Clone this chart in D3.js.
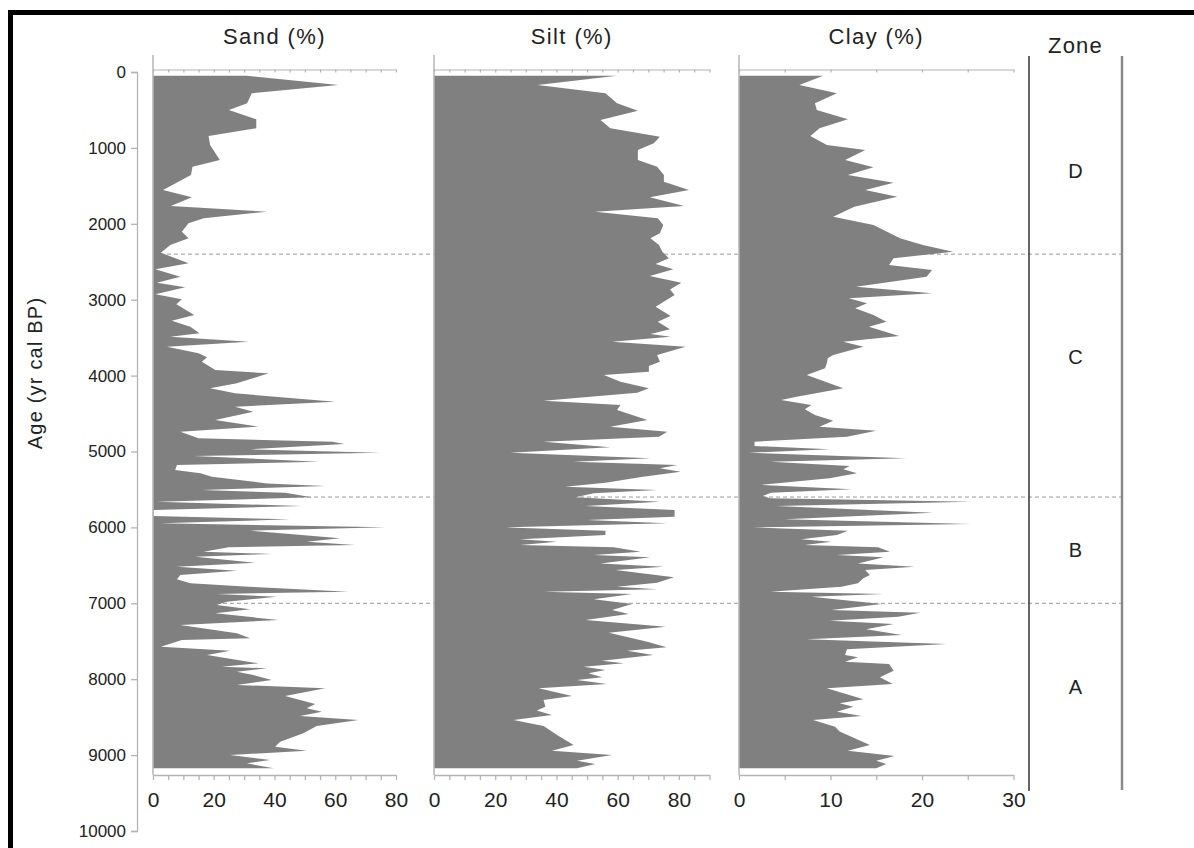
<!DOCTYPE html>
<html><head><meta charset="utf-8">
<script src="https://cdn.jsdelivr.net/npm/d3@7/dist/d3.min.js"></script>
<style>
body{margin:0;background:#fff}
svg{display:block}
text{font-family:"Liberation Sans",Arial,Helvetica,sans-serif}
</style>
</head><body>
<svg id="chart" width="1194" height="848"></svg>
<script>
// ---- data: [age (yr cal BP), percent] ----
const sandData = [[50,31],[171,61],[281,32.5],[413,31],[501,25],[624,34],[742,34],[843,18.3],[962,18.8],[1159,22],[1247,13],[1357,12.5],[1555,3.3],[1651,12.8],[1765,5.9],[1840,37.5],[1928,16.7],[1994,11.7],[2104,9.5],[2191,11.7],[2279,5.7],[2381,2.6],[2521,11.7],[2600,0.8],[2697,9],[2776,1.3],[2837,10.6],[2929,0.8],[2995,9.5],[3061,7.7],[3202,13.6],[3277,6.2],[3356,12.3],[3443,15.3],[3487,5.7],[3553,31.5],[3619,4.6],[3707,15],[3759,17.8],[3817,16.1],[3926,20.5],[3970,38],[4102,27.6],[4168,18.8],[4233,27],[4344,60],[4410,27],[4476,33],[4585,20.5],[4673,34.7],[4739,9],[4826,15],[4871,59],[4900,63],[4971,32],[5016,74.7],[5059,13.4],[5135,54.5],[5178,7.9],[5244,7.3],[5288,15.6],[5332,19.4],[5420,37.5],[5455,56.7],[5507,16],[5543,43.5],[5604,52.3],[5661,1.3],[5718,49],[5771,0.2],[5850,0.2],[5894,45],[5946,2.4],[5999,76.7],[6043,32],[6144,61.6],[6188,50.6],[6232,66.5],[6262,24.9],[6320,16.7],[6350,39.1],[6386,13.9],[6465,33.6],[6517,7.9],[6570,27.6],[6627,9],[6684,7.9],[6737,12.3],[6781,31.5],[6847,64.3],[6877,21],[6913,40.8],[6979,24.3],[7022,21],[7079,32],[7132,20.5],[7220,41.3],[7286,9],[7396,27.6],[7462,32],[7484,9.5],[7572,2.6],[7625,25.4],[7681,17.8],[7791,34.7],[7835,22.7],[7857,37.5],[7901,27.6],[7945,33],[8011,39.1],[8076,27.6],[8120,56.7],[8221,43.5],[8327,53.4],[8384,50.6],[8428,55.6],[8485,48.4],[8538,67.6],[8617,53.9],[8713,49.5],[8824,41.9],[8890,40.2],[8942,50.6],[8999,25.4],[9065,38.6],[9108,30.9],[9174,39.7]];

const siltData = [[50,59.8],[171,33.8],[281,56],[413,59.8],[510,66.6],[632,54.4],[742,57.6],[852,73.8],[940,71.8],[1028,66.6],[1159,66.6],[1247,72.9],[1357,75.1],[1445,75.1],[1555,83.3],[1651,70.5],[1765,81.7],[1840,52.7],[1928,73.1],[2016,74.9],[2125,73.8],[2191,70.7],[2279,73.5],[2367,74.6],[2455,76.7],[2530,72.4],[2600,78.2],[2688,70.5],[2776,80.8],[2864,77.1],[2938,78.6],[3092,72.4],[3215,77.3],[3290,73.1],[3390,77.1],[3452,70.7],[3487,77.3],[3553,58.2],[3619,82.2],[3729,72.9],[3817,73.8],[3874,70.2],[3948,70.2],[3992,55.5],[4080,60.9],[4168,70.2],[4226,66.4],[4330,35.8],[4387,60.9],[4453,59.8],[4585,69.7],[4673,57.6],[4739,76.2],[4805,73.5],[4871,35.8],[4945,57.6],[5016,24.9],[5090,70.7],[5135,45.6],[5178,79.5],[5222,73.8],[5266,80.6],[5332,68.3],[5411,56],[5464,42.9],[5507,72.9],[5551,52.2],[5604,46.2],[5661,73.8],[5718,49.5],[5771,78.6],[5859,78.6],[5903,50],[5946,76.2],[5999,23.6],[6043,56],[6100,56],[6157,28.2],[6188,40.2],[6232,28.2],[6262,58.7],[6320,67.5],[6364,52.2],[6394,70.7],[6474,54.4],[6517,75.1],[6561,59.3],[6658,78.4],[6728,72.9],[6781,59.8],[6816,72.9],[6847,35.8],[6877,64.7],[6947,52.2],[7009,64.7],[7088,58.2],[7141,63.6],[7220,49.5],[7308,75.7],[7387,57.1],[7506,69.7],[7580,76],[7625,63.1],[7681,71.6],[7756,54.9],[7791,62],[7835,48.9],[7879,56],[7923,50.5],[7975,54.9],[8011,46.7],[8063,56.5],[8120,34.2],[8221,45.1],[8274,35.8],[8362,36.4],[8414,33.6],[8471,38.5],[8538,26],[8617,35.8],[8735,40.2],[8867,45.6],[8942,38.5],[8999,58.2],[9074,46.7],[9117,52.7],[9174,46.7]];

const clayData = [[50,9.2],[171,6.6],[281,10.7],[413,8.3],[501,8.5],[624,11.9],[742,8.8],[843,7.8],[962,9.6],[1028,13.8],[1159,11.6],[1256,14.7],[1357,11.9],[1458,16.9],[1555,13.8],[1643,17.3],[1774,12.6],[1906,10.3],[2016,14.7],[2191,17.6],[2279,20.1],[2367,23.4],[2455,16.9],[2543,16.4],[2609,21.1],[2697,20.5],[2829,12.8],[2916,21.1],[2982,12],[3048,14],[3114,12.7],[3202,14.7],[3290,16.1],[3356,14.2],[3478,17.5],[3553,11.4],[3619,13.6],[3729,10.3],[3772,9.7],[3838,9.6],[3904,9.4],[3992,7.4],[4168,11.4],[4278,6.3],[4322,4.6],[4387,7.9],[4444,7.2],[4519,8.3],[4594,10.3],[4673,8.8],[4725,15],[4805,11.8],[4871,1.7],[4928,1.7],[4971,9.9],[5016,1.1],[5090,18.3],[5135,3.4],[5191,12.1],[5235,11.4],[5288,12.9],[5354,9.9],[5441,2.4],[5498,12.3],[5543,3.5],[5586,2.6],[5617,3.4],[5661,25.4],[5718,4.1],[5806,21.2],[5894,5],[5955,25.3],[5999,1.5],[6043,11.9],[6100,10.7],[6157,6.8],[6188,10.1],[6232,7.2],[6262,15.2],[6320,16.5],[6364,10.7],[6394,15.8],[6474,13],[6517,19.2],[6561,13.8],[6627,14.3],[6671,13.6],[6737,13],[6781,11.2],[6847,3.4],[6877,15.8],[6913,7.9],[7009,15.6],[7088,10.1],[7123,19.8],[7176,17.4],[7229,9.9],[7273,16.9],[7343,13.9],[7418,17.8],[7475,7.4],[7536,22.7],[7606,11.8],[7681,11.6],[7712,13],[7769,11.6],[7800,16.4],[7888,16.9],[7975,15.4],[8063,16.8],[8120,9.6],[8265,13.6],[8318,11],[8362,12.5],[8428,10.7],[8485,13.4],[8538,8.1],[8625,10.5],[8690,11],[8867,14.3],[8942,11.9],[9012,17],[9074,15],[9117,16.1],[9174,15]];

const panelTitles = ["Sand (%)", "Silt (%)", "Clay (%)"];
const panelMax = [80, 90, 30];
const panelLabelTicks = [[0,20,40,60,80],[0,20,40,60,80],[0,10,20,30]];
const minorStep = 5;
const ageTicks = [0,1000,2000,3000,4000,5000,6000,7000,8000,9000,10000];
const zoneBoundaries = [2400, 5600, 7000];
const zoneNames = ["D","C","B","A"];
const zoneNameAges = [1300, 3750, 6300, 8100];
const ageLabel = "Age (yr cal BP)";
const zoneTitle = "Zone";

// ---- layout ----
const svg = d3.select("#chart");
const y = d3.scaleLinear().domain([0, 10000]).range([72, 831]);
const panelRanges = [[153, 396], [434, 709.5], [739, 1013.5]];
const topAxisY = 69.5, bottomAxisY = 775, panelTop = 55;
const zoneLeftX = 1029, zoneRightX = 1122;
const fillColor = "#808080", axisColor = "#b4b4b4";

// frame
svg.append("rect").attr("x", 10.5).attr("y", 12.5).attr("width", 1400).attr("height", 1000)
  .attr("fill", "none").attr("stroke", "#000").attr("stroke-width", 5);

// zone boundary dashed lines (behind fills)
svg.append("g").selectAll("line").data(zoneBoundaries).join("line")
  .attr("x1", panelRanges[0][0]).attr("x2", zoneRightX)
  .attr("y1", d => y(d)).attr("y2", d => y(d))
  .attr("stroke", "#9a9a9a").attr("stroke-width", 1).attr("stroke-dasharray", "4,3");

// age axis
const yAxis = svg.append("g").attr("transform", "translate(137,0)")
  .call(d3.axisLeft(y).tickValues(ageTicks).tickFormat(d3.format("d")).tickSize(6).tickPadding(5));
yAxis.selectAll("path,line").attr("stroke", axisColor).attr("stroke-width", 1.3);
yAxis.selectAll("text").attr("font-size", 17).attr("fill", "#222");

svg.append("text").attr("transform", "translate(42,373) rotate(-90)")
  .attr("text-anchor", "middle").attr("font-size", 20).attr("letter-spacing", 1.2)
  .attr("fill", "#222").text(ageLabel);

const seriesList = [sandData, siltData, clayData];
seriesList.forEach((data, i) => {
  const x = d3.scaleLinear().domain([0, panelMax[i]]).range(panelRanges[i]);
  const g = svg.append("g");
  const area = d3.area().y(d => y(d[0])).x0(x(0)).x1(d => x(d[1]));
  g.append("path").datum(data).attr("d", area).attr("fill", fillColor);

  // vertical axis of the panel
  g.append("line").attr("x1", x(0)).attr("x2", x(0)).attr("y1", panelTop).attr("y2", bottomAxisY)
    .attr("stroke", axisColor).attr("stroke-width", 1.5);

  const minor = d3.range(0, panelMax[i] + 0.001, minorStep);
  // top axis (ticks only)
  const ta = g.append("g").attr("transform", `translate(0,${topAxisY})`)
    .call(d3.axisBottom(x).tickValues(minor).tickSize(3).tickSizeOuter(0).tickFormat(""));
  ta.selectAll("path,line").attr("stroke", axisColor).attr("stroke-width", 1.2);

  // bottom axis
  const labels = panelLabelTicks[i];
  const ba = g.append("g").attr("transform", `translate(0,${bottomAxisY})`)
    .call(d3.axisBottom(x).tickValues(minor).tickSize(5).tickSizeOuter(0).tickPadding(12)
      .tickFormat(d => labels.includes(d) ? d3.format("d")(d) : ""));
  ba.selectAll("path,line").attr("stroke", axisColor).attr("stroke-width", 1.3);
  ba.selectAll("text").attr("font-size", 21).attr("fill", "#222");

  svg.append("text").attr("x", (panelRanges[i][0] + panelRanges[i][1]) / 2).attr("y", 44)
    .attr("text-anchor", "middle").attr("font-size", 22).attr("letter-spacing", 1.4)
    .attr("fill", "#222").text(panelTitles[i]);
});

// zone column
svg.append("line").attr("x1", zoneLeftX).attr("x2", zoneLeftX).attr("y1", 56).attr("y2", 791)
  .attr("stroke", "#333").attr("stroke-width", 1.5);
svg.append("line").attr("x1", zoneRightX).attr("x2", zoneRightX).attr("y1", 56).attr("y2", 790)
  .attr("stroke", "#8a8a8a").attr("stroke-width", 2.5);
svg.append("text").attr("x", (zoneLeftX + zoneRightX) / 2).attr("y", 53)
  .attr("text-anchor", "middle").attr("font-size", 22).attr("letter-spacing", 1.2)
  .attr("fill", "#222").text(zoneTitle);
svg.append("g").selectAll("text").data(zoneNames).join("text")
  .attr("x", (zoneLeftX + zoneRightX) / 2).attr("y", (d, i) => y(zoneNameAges[i]))
  .attr("dy", "0.36em").attr("text-anchor", "middle").attr("font-size", 20)
  .attr("fill", "#222").text(d => d);
</script>
</body></html>
